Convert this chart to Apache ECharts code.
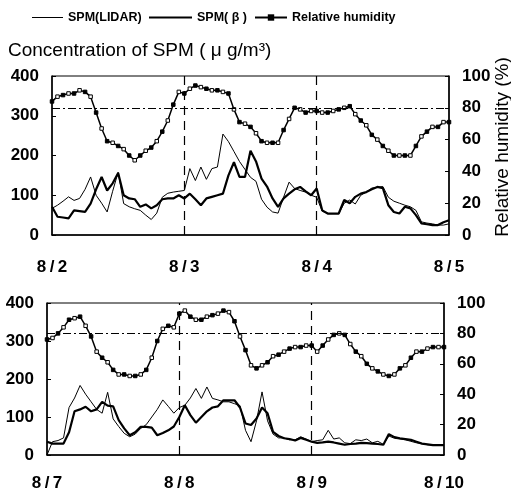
<!DOCTYPE html>
<html><head><meta charset="utf-8">
<script src="https://cdn.jsdelivr.net/npm/echarts@6/dist/echarts.min.js"></script>
<style>html,body{margin:0;padding:0;background:#fff}#c{width:511px;height:496px}</style>
</head><body><div id="c"></div>
<script>
// hours since start of each panel (hourly samples)
const hours = Array.from({length: 73}, (_, i) => i);

const topTicks = ['8/2', '8/3', '8/4', '8/5'];
const bottomTicks = ['8/7', '8/8', '8/9', '8/10'];
const spmTicks = [0, 100, 200, 300, 400];
const rhTicks = [0, 20, 40, 60, 80, 100];
const rhReference = 80;

// Aug 2 - Aug 5
const topLidar = [67,75,85,96,87,92,115,146,100,80,58,110,158,79,71,66,62,50,39,55,95,105,108,110,112,167,137,171,140,167,171,254,235,210,185,165,145,135,90,70,58,55,95,133,117,112,108,100,95,60,54,54,54,80,88,78,100,108,118,120,122,95,85,80,75,71,62,33,30,28,25,25,28];
const topBeta = [71,46,44,42,62,60,58,79,115,146,112,130,156,100,92,90,71,77,67,75,90,92,92,100,92,104,90,75,92,96,100,104,150,183,146,146,212,185,142,122,92,71,92,104,115,121,110,100,117,62,54,54,54,88,80,96,104,108,115,121,118,75,58,54,71,67,50,29,27,25,25,32,37];
const topRH = [84,87,88,89,89,91,90,87,77,67,59,58,56,54,50,47,50,53,55,59,65,72,82,90,89,92,94,93,92,91,91,90,89,79,71,70,68,64,59,58,58,58,66,73,80,79,77,78,78,77,77,78,79,80,81,76,72,69,63,60,56,53,50,50,50,50,56,62,65,68,68,71,71];

// Aug 7 - Aug 10
const bottomLidar = [0,35,38,45,125,150,183,160,140,120,110,165,95,75,57,48,55,70,80,100,120,145,128,110,125,131,150,175,149,179,149,145,140,140,135,130,65,35,90,166,90,55,45,45,40,40,48,42,35,38,40,65,42,45,32,30,40,38,42,32,36,28,50,44,42,40,36,32,30,27,26,26,26];
const bottomBeta = [35,30,30,30,60,115,120,127,115,120,140,130,128,92,70,52,60,74,74,72,52,58,65,75,100,131,105,85,100,115,125,128,144,144,144,125,83,79,96,125,110,61,50,44,42,38,45,40,35,32,33,35,33,30,27,29,30,32,31,30,29,27,55,47,44,42,40,35,30,28,26,26,26];
const bottomRH = [76,77,80,84,89,90,91,85,78,68,64,61,56,53,53,52,52,53,56,64,75,83,85,84,93,95,91,89,89,91,92,93,95,94,88,78,69,59,57,59,61,65,66,68,70,71,71,72,72,68,72,76,79,80,79,73,68,65,60,57,55,53,52,53,57,59,64,68,68,70,71,71,71];

const FONT = '"Liberation Sans", Arial, sans-serif';
const pairs = vals => vals.map((v, i) => [hours[i], v]);
const rhPairs = vals => vals.map((v, i) => ({
  value: [hours[i], v],
  itemStyle: { color: i % 2 ? '#fff' : '#000', borderColor: '#000', borderWidth: 1 }
}));

const tickFont = { fontSize: 17, fontWeight: 'bold', color: '#000', fontFamily: FONT };

function xAxis(grid, ticks, margin) {
  return {
    type: 'value', gridIndex: grid, min: 0, max: 72, interval: 24,
    axisLine: { lineStyle: { color: '#000', width: 1.5 } },
    axisTick: { show: false }, splitLine: { show: false },
    axisLabel: Object.assign({
      margin: margin,
      formatter: v => ticks[Math.round(v / 24)].replace('/', '\u2009/\u2009')
    }, tickFont)
  };
}
function yAxis(grid, pos, ticks) {
  return {
    type: 'value', gridIndex: grid, position: pos,
    min: ticks[0], max: ticks[ticks.length - 1], interval: ticks[1] - ticks[0],
    axisLine: { show: true, lineStyle: { color: '#000', width: 1.5 } },
    axisTick: { show: true, inside: true, length: 4, lineStyle: { color: '#000' } },
    splitLine: { show: false },
    axisLabel: Object.assign({ margin: 13 }, tickFont)
  };
}
function spmSeries(name, vals, xi, yi, width) {
  return {
    name: name, type: 'line', xAxisIndex: xi, yAxisIndex: yi, data: pairs(vals),
    symbol: 'none', lineStyle: { color: '#000', width: width }, itemStyle: { color: '#000' },
    z: 3
  };
}
function rhSeries(vals, xi, yi) {
  return {
    name: 'Relative humidity', type: 'line', xAxisIndex: xi, yAxisIndex: yi, data: rhPairs(vals),
    symbol: 'rect', symbolSize: 3.5, showSymbol: true,
    lineStyle: { color: '#000', width: 1.5 }, itemStyle: { color: '#000' },
    markLine: {
      silent: true, symbol: 'none', label: { show: false },
      data: [
        { yAxis: rhReference, lineStyle: { type: [8, 3, 2, 3], width: 1, color: '#000' } },
        { xAxis: 24, lineStyle: { type: [9, 6], width: 1.2, color: '#000' } },
        { xAxis: 48, lineStyle: { type: [9, 6], width: 1.2, color: '#000' } }
      ]
    },
    z: 4
  };
}

const legendText = { fontSize: 12.5, fontWeight: 'bold', color: '#000', fontFamily: FONT };

const chart = echarts.init(document.getElementById('c'), null, { renderer: 'canvas' });
chart.setOption({
  animation: false,
  backgroundColor: '#fff',
  legend: [
    { left: 27, top: 6, itemWidth: 31, itemHeight: 1, icon: 'rect', textStyle: legendText, data: ['SPM(LIDAR)'] },
    { left: 144, top: 6, itemWidth: 43, itemHeight: 2, icon: 'rect', textStyle: legendText, data: ['SPM( β )'] },
    { left: 249, top: 6, itemWidth: 32, itemHeight: 8, textStyle: legendText, data: ['Relative humidity'] }
  ],
  graphic: [
    {
      type: 'text', left: 8, top: 41,
      style: { text: 'Concentration of SPM ( μ g/m³)', fontSize: 19, fill: '#000', fontFamily: FONT }
    },
    {
      type: 'text', x: 503, y: 147, rotation: Math.PI / 2,
      style: { text: 'Relative humidity (%)', fontSize: 19, fill: '#000', fontFamily: FONT,
               align: 'center', verticalAlign: 'middle' }
    }
  ],
  grid: [
    { left: 52, top: 76, width: 397, height: 159, show: true, borderColor: '#000', borderWidth: 1, outerBoundsMode: 'none' },
    { left: 47, top: 303, width: 397, height: 152, show: true, borderColor: '#000', borderWidth: 1, outerBoundsMode: 'none' }
  ],
  xAxis: [xAxis(0, topTicks, 24), xAxis(1, bottomTicks, 20)],
  yAxis: [
    yAxis(0, 'left', spmTicks),
    yAxis(0, 'right', rhTicks),
    yAxis(1, 'left', spmTicks),
    yAxis(1, 'right', rhTicks)
  ],
  series: [
    spmSeries('SPM(LIDAR)', topLidar, 0, 0, 1),
    spmSeries('SPM( β )', topBeta, 0, 0, 2.2),
    rhSeries(topRH, 0, 1),
    spmSeries('SPM(LIDAR)', bottomLidar, 1, 2, 1),
    spmSeries('SPM( β )', bottomBeta, 1, 2, 2.2),
    rhSeries(bottomRH, 1, 3)
  ]
});
</script>
</body></html>
